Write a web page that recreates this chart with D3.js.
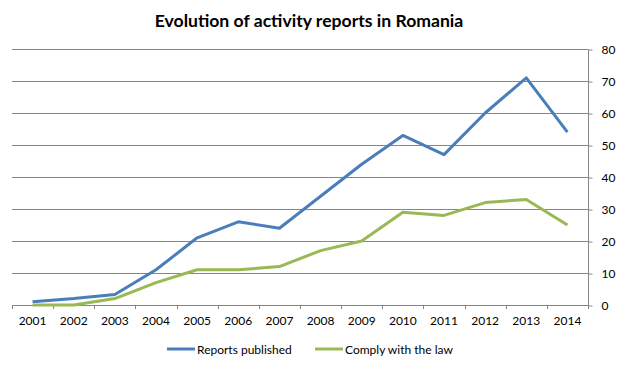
<!DOCTYPE html>
<html>
<head>
<meta charset="utf-8">
<script src="https://cdn.jsdelivr.net/npm/d3@7"></script>
<style>
  html, body { margin: 0; padding: 0; background: #fff; }
  svg { display: block; }
  text { font-family: Lato, "Open Sans", sans-serif; fill: #000; }
</style>
</head>
<body>
<svg id="chart" width="620" height="365"></svg>
<script>
const years = ["2001","2002","2003","2004","2005","2006","2007","2008","2009","2010","2011","2012","2013","2014"];
const reportsPublished = [1, 2, 3.3, 11, 21, 26, 24, 34, 44, 53, 47, 60, 71, 54];
const complyWithLaw = [0, 0, 2, 7, 11, 11, 12, 17, 20, 29, 28, 32, 33, 25];
const yTicks = [0, 10, 20, 30, 40, 50, 60, 70, 80];
const seriesNames = ["Reports published", "Comply with the law"];
const seriesColors = ["#4a7ebb", "#98b954"];
const title = "Evolution of activity reports in Romania";

const series = [
  { name: seriesNames[0], color: seriesColors[0], values: reportsPublished },
  { name: seriesNames[1], color: seriesColors[1], values: complyWithLaw }
];

const svg = d3.select("#chart");
const plotLeft = 12, plotRight = 588, plotTop = 49, plotBottom = 305;

const x = d3.scaleBand().domain(years).range([plotLeft, plotRight]);
const y = d3.scaleLinear().domain([0, 80]).range([plotBottom, plotTop]);

// gridlines
svg.append("g")
  .selectAll("line")
  .data(yTicks.filter(d => d > 0))
  .join("line")
  .attr("x1", plotLeft).attr("x2", plotRight)
  .attr("y1", d => y(d) + 0.5).attr("y2", d => y(d) + 0.5)
  .attr("stroke", "#868686").attr("stroke-width", 1);

// right axis
const yAxis = d3.axisRight(y).tickValues(yTicks).tickSize(4).tickPadding(9);
const gy = svg.append("g").attr("transform", `translate(${plotRight + 0.5},0.5)`).call(yAxis);
gy.select(".domain").attr("stroke", "#868686").attr("d", `M0,${plotTop}V${plotBottom}`);
gy.selectAll(".tick line").attr("stroke", "#868686");
gy.selectAll(".tick text").attr("font-size", 12).attr("fill", "#000")
  .style("font-family", "Lato, 'Open Sans', sans-serif");

// bottom axis
const xAxis = d3.axisBottom(x).tickSize(0).tickPadding(11);
const gx = svg.append("g").attr("transform", `translate(0,${plotBottom + 0.5})`).call(xAxis);
gx.select(".domain").attr("stroke", "#868686").attr("d", `M${plotLeft},0H${plotRight}`);
gx.selectAll(".tick text").attr("font-size", 12).attr("fill", "#000")
  .style("font-family", "Lato, 'Open Sans', sans-serif");
// category boundary ticks
const boundaries = years.map(d => x(d)).concat([x(years[years.length - 1]) + x.bandwidth()]);
svg.append("g").selectAll("line").data(boundaries).join("line")
  .attr("x1", d => Math.round(d) + 0.5).attr("x2", d => Math.round(d) + 0.5)
  .attr("y1", plotBottom).attr("y2", plotBottom + 4)
  .attr("stroke", "#868686");

// lines
const line = d3.line()
  .x((d, i) => x(years[i]) + x.bandwidth() / 2)
  .y(d => y(d));

svg.append("g").selectAll("path").data(series).join("path")
  .attr("d", d => line(d.values))
  .attr("fill", "none")
  .attr("stroke", d => d.color)
  .attr("stroke-width", 3)
  .attr("stroke-linejoin", "round");

// title
svg.append("text")
  .attr("x", 309).attr("y", 27)
  .attr("text-anchor", "middle")
  .attr("font-size", 17.6).attr("font-weight", "bold")
  .text(title);

// legend
const legendItems = [
  { name: seriesNames[0], color: seriesColors[0], x: 167 },
  { name: seriesNames[1], color: seriesColors[1], x: 315 }
];
const lg = svg.append("g").selectAll("g").data(legendItems).join("g")
  .attr("transform", d => `translate(${d.x},349)`);
lg.append("line").attr("x1", 0).attr("x2", 28).attr("y1", 0).attr("y2", 0)
  .attr("stroke", d => d.color).attr("stroke-width", 3);
lg.append("text").attr("x", 30).attr("y", 4.5).attr("font-size", 12).text(d => d.name);
</script>
</body>
</html>
